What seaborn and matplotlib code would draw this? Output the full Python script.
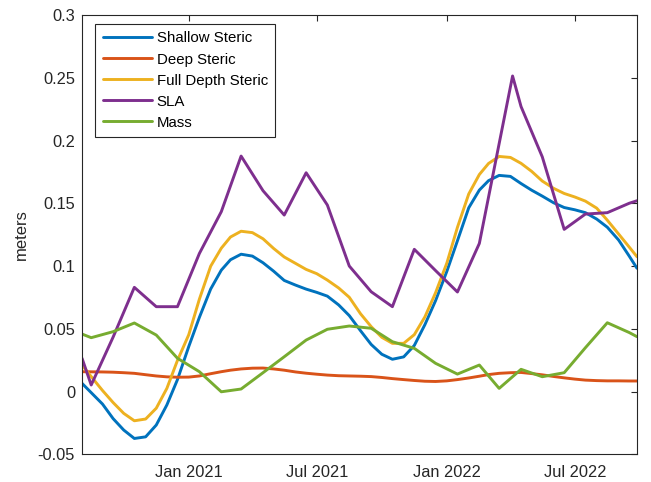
import matplotlib
matplotlib.use("Agg")
import matplotlib.pyplot as plt
import numpy as np
import pandas as pd
import seaborn as sns

# Steric components, sampled twice a month
steric_dates = [
    "2020-08-03", "2020-08-16", "2020-09-01", "2020-09-16", "2020-10-01", "2020-10-16",
    "2020-11-01", "2020-11-16", "2020-12-01", "2020-12-16", "2021-01-01", "2021-01-16",
    "2021-02-01", "2021-02-16", "2021-03-01", "2021-03-16", "2021-04-01", "2021-04-16",
    "2021-05-01", "2021-05-16", "2021-06-01", "2021-06-16", "2021-07-01", "2021-07-16",
    "2021-08-01", "2021-08-16", "2021-09-01", "2021-09-16", "2021-10-01", "2021-10-16",
    "2021-11-01", "2021-11-16", "2021-12-01", "2021-12-16", "2022-01-01", "2022-01-16",
    "2022-02-01", "2022-02-16", "2022-03-01", "2022-03-16", "2022-04-01", "2022-04-16",
    "2022-05-01", "2022-05-16", "2022-06-01", "2022-06-16", "2022-07-01", "2022-07-16",
    "2022-08-01", "2022-08-16", "2022-09-01", "2022-09-16", "2022-09-27",
]
shallow_steric = [
    0.0065, -0.0009, -0.0100, -0.0216, -0.0307, -0.0374, -0.0361, -0.0267, -0.0107, 0.0095,
    0.0359, 0.0591, 0.0817, 0.0967, 0.1050, 0.1094, 0.1079, 0.1026, 0.0959, 0.0885,
    0.0848, 0.0816, 0.0790, 0.0760, 0.0690, 0.0605, 0.0484, 0.0375, 0.0297, 0.0257,
    0.0276, 0.0367, 0.0533, 0.0723, 0.0957, 0.1201, 0.1464, 0.1605, 0.1680, 0.1722,
    0.1714, 0.1657, 0.1604, 0.1557, 0.1504, 0.1466, 0.1448, 0.1425, 0.1374, 0.1309,
    0.1207, 0.1079, 0.0982,
]
deep_steric = [
    0.0158, 0.0157, 0.0156, 0.0154, 0.0150, 0.0145, 0.0134, 0.0124, 0.0117, 0.0114,
    0.0115, 0.0124, 0.0142, 0.0158, 0.0170, 0.0180, 0.0186, 0.0187, 0.0180, 0.0170,
    0.0156, 0.0146, 0.0138, 0.0131, 0.0126, 0.0124, 0.0122, 0.0119, 0.0112, 0.0103,
    0.0095, 0.0088, 0.0082, 0.0080, 0.0085, 0.0095, 0.0108, 0.0122, 0.0135, 0.0145,
    0.0150, 0.0152, 0.0143, 0.0133, 0.0120, 0.0109, 0.0099, 0.0091, 0.0087, 0.0085,
    0.0085, 0.0084, 0.0084,
]
full_depth_steric = [
    0.0210, 0.0119, 0.0008, -0.0088, -0.0174, -0.0233, -0.0219, -0.0133, 0.0025, 0.0248,
    0.0453, 0.0736, 0.0999, 0.1142, 0.1231, 0.1277, 0.1266, 0.1217, 0.1140, 0.1072,
    0.1021, 0.0973, 0.0939, 0.0888, 0.0825, 0.0751, 0.0619, 0.0517, 0.0432, 0.0384,
    0.0384, 0.0453, 0.0595, 0.0786, 0.1023, 0.1308, 0.1574, 0.1729, 0.1817, 0.1873,
    0.1865, 0.1818, 0.1754, 0.1677, 0.1619, 0.1578, 0.1550, 0.1517, 0.1461, 0.1365,
    0.1255, 0.1151, 0.1074,
]

# Altimetric sea level anomaly
sla_dates = [
    "2020-08-03", "2020-08-16", "2020-09-16", "2020-10-16", "2020-11-16", "2020-12-16",
    "2021-01-16", "2021-02-16", "2021-03-16", "2021-04-16", "2021-05-16", "2021-06-16",
    "2021-07-16", "2021-08-16", "2021-09-16", "2021-10-16", "2021-11-16", "2021-12-16",
    "2022-01-16", "2022-02-16", "2022-04-04", "2022-04-16", "2022-05-16", "2022-06-16",
    "2022-07-16", "2022-08-16", "2022-09-16", "2022-09-27",
]
sla = [
    0.0265, 0.0052, 0.0434, 0.0830, 0.0676, 0.0676,
    0.1100, 0.1433, 0.1876, 0.1600, 0.1406, 0.1743,
    0.1486, 0.1000, 0.0795, 0.0676, 0.1133, 0.0964,
    0.0793, 0.1180, 0.2514, 0.2270, 0.1870, 0.1292,
    0.1414, 0.1425, 0.1500, 0.1520,
]

# Ocean mass contribution
mass_dates = [
    "2020-08-03", "2020-08-16", "2020-09-16", "2020-10-16", "2020-11-16", "2020-12-16",
    "2021-01-16", "2021-02-16", "2021-03-16", "2021-04-16", "2021-05-16", "2021-06-16",
    "2021-07-16", "2021-08-16", "2021-09-16", "2021-10-16", "2021-11-16", "2021-12-16",
    "2022-01-16", "2022-02-16", "2022-03-16", "2022-04-16", "2022-05-16", "2022-06-16",
    "2022-07-16", "2022-08-16", "2022-09-16", "2022-09-27",
]
mass = [
    0.0458, 0.0429, 0.0477, 0.0546, 0.0450, 0.0265,
    0.0158, -0.0002, 0.0020, 0.0150, 0.0277, 0.0410,
    0.0496, 0.0522, 0.0504, 0.0397, 0.0344, 0.0225,
    0.0139, 0.0211, 0.0025, 0.0177, 0.0118, 0.0150,
    0.0349, 0.0548, 0.0470, 0.0437,
]

x_ticks = ["2021-01-01", "2021-07-01", "2022-01-01", "2022-07-01"]
x_tick_labels = ["Jan 2021", "Jul 2021", "Jan 2022", "Jul 2022"]
y_ticks = [-0.05, 0, 0.05, 0.1, 0.15, 0.2, 0.25, 0.3]
y_tick_labels = ["-0.05", "0", "0.05", "0.1", "0.15", "0.2", "0.25", "0.3"]

series = [
    ("Shallow Steric", steric_dates, shallow_steric, "#0072BD"),
    ("Deep Steric", steric_dates, deep_steric, "#D95319"),
    ("Full Depth Steric", steric_dates, full_depth_steric, "#EDB120"),
    ("SLA", sla_dates, sla, "#7E2F8E"),
    ("Mass", mass_dates, mass, "#77AC30"),
]

sns.set_theme(style="white")
plt.rcParams["font.family"] = ["Liberation Sans", "DejaVu Sans"]
axis_color = "#262626"

fig = plt.figure(figsize=(6.51, 4.82), dpi=100)
ax = fig.add_axes([0.126, 0.0575, 0.8525, 0.9114])

for name, dates, values, color in series:
    df = pd.DataFrame({"date": pd.to_datetime(dates), "value": values})
    sns.lineplot(data=df, x="date", y="value", ax=ax, color=color, lw=2.1,
                 label=name, estimator=None, sort=False)

ax.set_xlim(pd.Timestamp("2020-08-03"), pd.Timestamp("2022-09-27"))
ax.set_ylim(-0.05, 0.3)
ax.set_xticks(pd.to_datetime(x_ticks))
ax.set_xticklabels(x_tick_labels)
ax.set_yticks(y_ticks)
ax.set_yticklabels(y_tick_labels)
ax.set_xlabel("")
ax.set_ylabel("meters", fontsize=12, color=axis_color, labelpad=6)

for s in ax.spines.values():
    s.set_visible(True)
    s.set_color(axis_color)
    s.set_linewidth(0.8)
ax.tick_params(axis="both", which="both", direction="in", length=4.5, width=0.8,
               colors=axis_color, labelsize=11.8, top=True, right=True,
               labeltop=False, labelright=False, pad=5)
ax.tick_params(axis="x", pad=8)

leg = ax.legend(loc="upper left", bbox_to_anchor=(0.0234, 0.9795), borderaxespad=0,
                fontsize=10.8, frameon=True, fancybox=False, framealpha=1,
                edgecolor=axis_color, handlelength=3.3, handletextpad=0.3,
                labelspacing=0.47, borderpad=0.5)
leg.get_frame().set_linewidth(0.8)
for t in leg.get_texts():
    t.set_color("black")

fig.savefig("out.png", dpi=100, facecolor="white")
